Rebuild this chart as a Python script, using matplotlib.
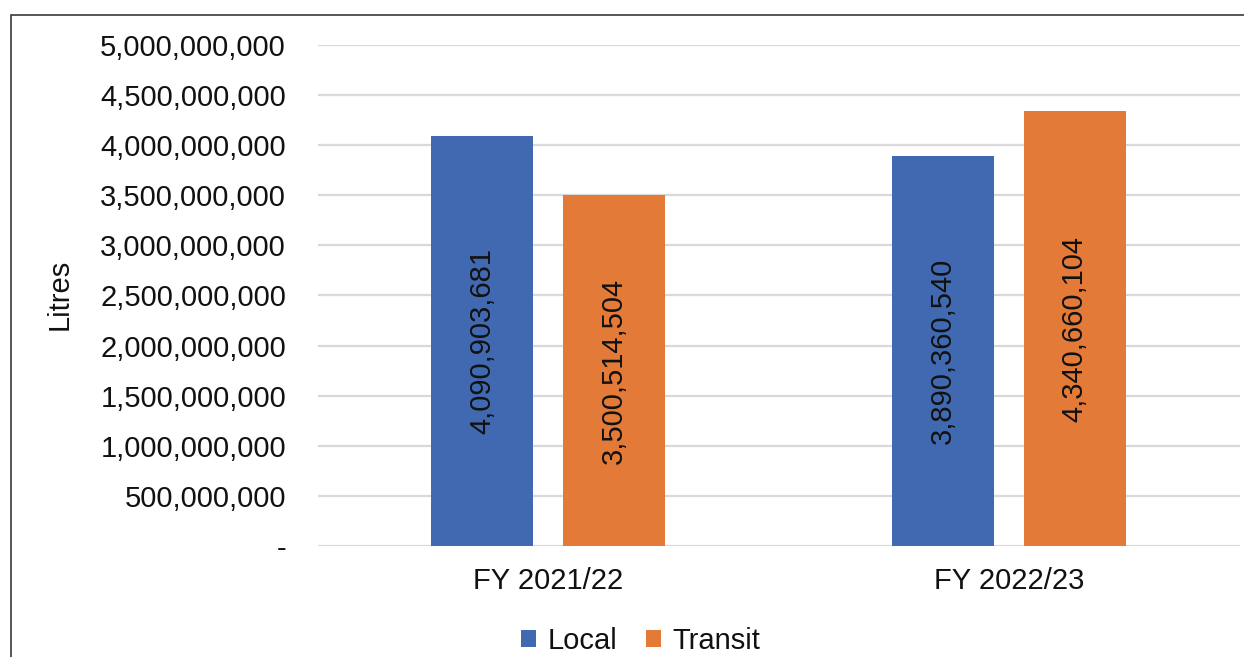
import matplotlib.pyplot as plt
from matplotlib.patches import Rectangle
from matplotlib.ticker import FuncFormatter

plt.rcParams['font.family'] = ['Liberation Sans', 'DejaVu Sans']

years = ['FY 2021/22', 'FY 2022/23']
local = [4090903681, 3890360540]
transit = [3500514504, 4340660104]
series_names = ['Local', 'Transit']
colors = ['#4169B1', '#E47A38']


def fmt(v, pos):
    if v == 0:
        return '-'
    return '{:,.0f}'.format(v)


fig = plt.figure(figsize=(12.44, 6.57), dpi=100)
ax = fig.add_axes([0.2556, 0.169, 0.7412, 0.7625])

# outer border like the exported chart frame
fig.patches.append(Rectangle((11 / 1244, -0.1), 1.2, 1 - 15 / 657 + 0.1,
                             transform=fig.transFigure, fill=False,
                             edgecolor='#3a3a3a', linewidth=1.2))

x = range(len(years))
width = 0.221
offsets = [-0.1435, 0.1415]

for vals, off, col, name in zip([local, transit], offsets, colors, series_names):
    pos = [i + off for i in x]
    bars = ax.bar(pos, vals, width=width, color=col, label=name, zorder=3)
    for b, v in zip(bars, vals):
        ax.text(b.get_x() + b.get_width() / 2, v / 2, '{:,}'.format(v),
                rotation=90, ha='center', va='center', fontsize=21,
                color='#111111', zorder=4)

ax.set_xlim(-0.5, 1.5)
ax.set_ylim(0, 5000000000)
ax.set_yticks(range(0, 5000000001, 500000000))
ax.yaxis.set_major_formatter(FuncFormatter(fmt))
ax.set_xticks(list(x))
ax.set_xticklabels(years)
ax.tick_params(axis='both', length=0, labelsize=21, colors='#111111')
ax.tick_params(axis='y', pad=23)
ax.tick_params(axis='x', pad=15)

ax.grid(axis='y', color='#d9d9d9', linewidth=1.6, zorder=0)
for s in ax.spines.values():
    s.set_visible(False)

ax.set_ylabel('Litres', fontsize=21, color='#111111')
ax.yaxis.set_label_coords(-0.265, 0.503)

ax.legend(loc='center', bbox_to_anchor=(0.35, -0.19), ncol=2, frameon=False,
          fontsize=21, handlelength=0.5, handleheight=0.5, handletextpad=0.4,
          columnspacing=1.0, labelcolor='#111111')

fig.savefig('out.png', dpi=100)
